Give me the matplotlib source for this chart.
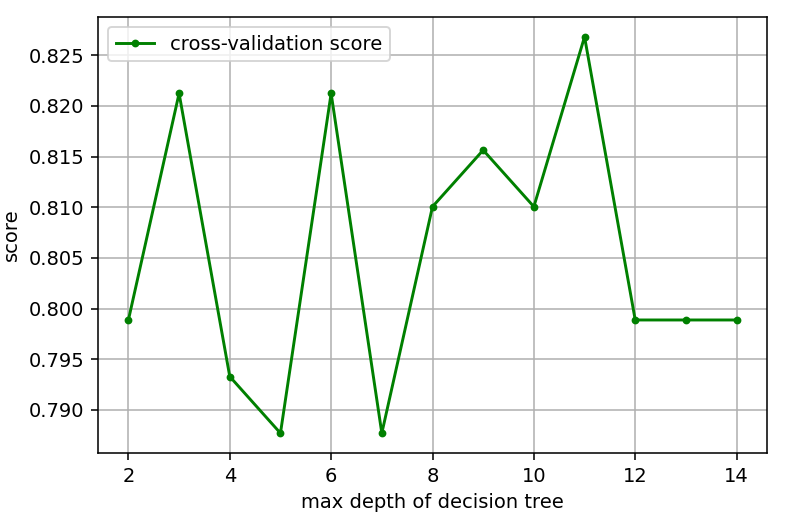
import matplotlib
matplotlib.use("Agg")
import matplotlib.pyplot as plt

depths = [2, 3, 4, 5, 6, 7, 8, 9, 10, 11, 12, 13, 14]
scores = [0.79888, 0.82124, 0.79330, 0.78771, 0.82124, 0.78771, 0.81006,
          0.81564, 0.81006, 0.82682, 0.79888, 0.79888, 0.79888]

DPI = 140
fig = plt.figure(figsize=(793/DPI, 520/DPI), dpi=DPI)
ax = fig.add_axes([98/793, 1-453/520, (767-98)/793, (453-17)/520])
ax.plot(depths, scores, color="green", marker=".", linewidth=1.5,
        label="cross-validation score")
ax.set_xlabel("max depth of decision tree")
ax.set_ylabel("score")
ax.grid(True)
ax.set_xticks([2, 4, 6, 8, 10, 12, 14])
ax.legend(loc="upper left")
fig.savefig("out.png", dpi=DPI)
